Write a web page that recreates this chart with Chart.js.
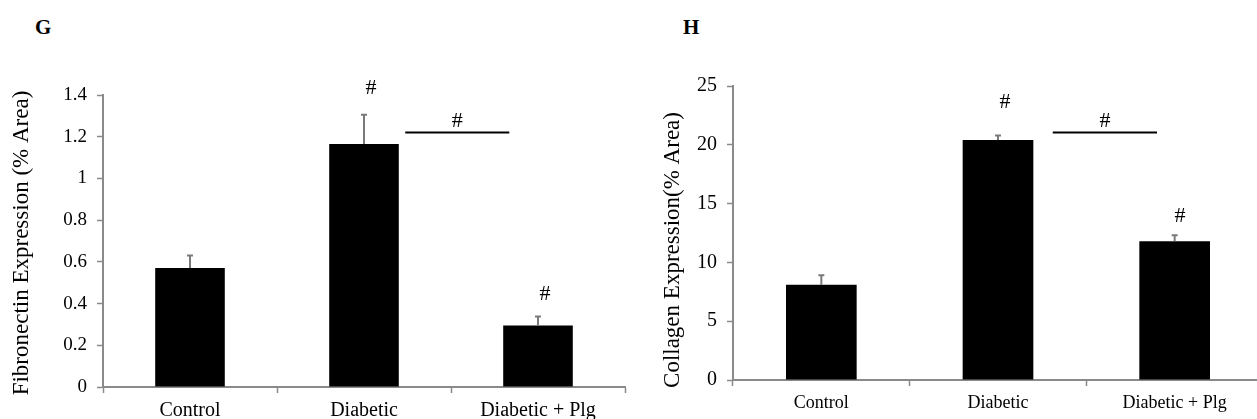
<!doctype html>
<html lang="en">
<head>
<meta charset="utf-8">
<title>Fibronectin / Collagen expression</title>
<script src="https://cdn.jsdelivr.net/npm/chart.js@4.4.1/dist/chart.umd.min.js"></script>
<style>
  html, body { margin: 0; padding: 0; background: #fff; overflow: hidden; }
  body { width: 1257px; height: 419px; position: relative; }
  .panel { position: absolute; font-family: "Liberation Serif", serif; font-weight: bold; font-size: 21px; color: #000; }
  canvas { position: absolute; top: 0; }
</style>
</head>
<body>
<div class="panel" style="left:35px;top:15px">G</div>
<div class="panel" style="left:683px;top:15px">H</div>
<canvas id="chartG" width="640" height="419" style="left:0"></canvas>
<canvas id="chartH" width="640" height="419" style="left:640px"></canvas>

<script>
// groups on the x axis
const groups = ['Control', 'Diabetic', 'Diabetic + Plg'];

// G: fibronectin, % area (mean and SEM)
const fnMean = [0.57, 1.165, 0.295];
const fnErr  = [0.06, 0.14, 0.043];
const fnTicks = ['0', '0.2', '0.4', '0.6', '0.8', '1', '1.2', '1.4'];
// "#" marks (category index, value) and the bracket between Diabetic and Diabetic + Plg
const fnMarks = [[1.04, 1.434], [2.04, 0.445]];
const fnBracket = [1.237, 1.835, 1.223, 1.272];

// H: collagen, % area
const colMean = [8.1, 20.4, 11.8];
const colErr  = [0.8, 0.4, 0.5];
const colTicks = ['0', '5', '10', '15', '20', '25'];
const colMarks = [[1.04, 23.58], [2.03, 13.9]];
const colBracket = [1.31, 1.9, 21.1, 21.97];

const serif = '"Liberation Serif", "Times New Roman", serif';
const axisGray = '#8a8a8a';

// error bars (upper only), significance marks and the rotated y title
const sigPlugin = {
  id: 'sig',
  afterDatasetsDraw(chart, args, opts) {
    const ctx = chart.ctx;
    const xs = chart.scales.x, ys = chart.scales.y;
    const meta = chart.getDatasetMeta(0);
    ctx.save();
    ctx.strokeStyle = '#7a7a7a';
    ctx.lineWidth = 2;
    opts.err.forEach(function(e, i) {
      const bar = meta.data[i];
      const top = ys.getPixelForValue(opts.mean[i] + e);
      ctx.beginPath();
      ctx.moveTo(bar.x, bar.y);
      ctx.lineTo(bar.x, top);
      ctx.moveTo(bar.x - 3, top);
      ctx.lineTo(bar.x + 3, top);
      ctx.stroke();
    });
    ctx.fillStyle = '#000';
    ctx.font = '22px ' + serif;
    ctx.textAlign = 'center';
    ctx.textBaseline = 'middle';
    opts.marks.forEach(function(m) {
      ctx.fillText('#', xs.getPixelForValue(m[0]), ys.getPixelForValue(m[1]));
    });
    const b = opts.bracket;
    const bx1 = xs.getPixelForValue(b[0]), bx2 = xs.getPixelForValue(b[1]);
    const by = Math.round(ys.getPixelForValue(b[2])) + 0.5;
    ctx.strokeStyle = '#000';
    ctx.lineWidth = 2;
    ctx.beginPath();
    ctx.moveTo(bx1, by);
    ctx.lineTo(bx2, by);
    ctx.stroke();
    ctx.fillText('#', (bx1 + bx2) / 2, ys.getPixelForValue(b[3]));

    // y axis title
    ctx.translate(opts.titleX, (chart.chartArea.top + chart.chartArea.bottom) / 2 + opts.titleShift);
    ctx.rotate(-Math.PI / 2);
    ctx.font = opts.titleSize + 'px ' + serif;
    ctx.fillText(opts.title, 0, 0);
    ctx.restore();
  }
};

function makeChart(id, mean, err, ticks, step, max, title, marks, bracket, cfg) {
  return new Chart(id, {
    type: 'bar',
    data: {
      labels: groups,
      datasets: [{
        data: mean,
        backgroundColor: '#000',
        borderWidth: 0,
        barPercentage: 0.4,
        categoryPercentage: 1
      }]
    },
    options: {
      responsive: false,
      animation: false,
      events: [],
      layout: { padding: { top: cfg.top, left: 0, right: cfg.right, bottom: 0 } },
      plugins: {
        legend: { display: false },
        tooltip: { enabled: false },
        sig: {
          mean: mean, err: err, marks: marks, bracket: bracket,
          title: title, titleX: cfg.titleX, titleShift: cfg.titleShift, titleSize: cfg.titleSize
        }
      },
      scales: {
        x: {
          grid: { offset: true, drawOnChartArea: false, color: axisGray, tickLength: 6, tickWidth: 1.5 },
          border: { color: axisGray, width: 2 },
          ticks: { color: '#000', padding: 6, font: { family: serif, size: cfg.xFont } },
          afterFit: function(s) { s.height = cfg.xHeight; }
        },
        y: {
          min: 0,
          max: max,
          grid: { drawOnChartArea: false, color: axisGray, tickLength: 6, tickWidth: 1.5 },
          border: { color: axisGray, width: 2 },
          ticks: {
            stepSize: step,
            color: '#000',
            padding: 10,
            font: { family: serif, size: cfg.yFont },
            callback: function(v, i) { return ticks[i]; }
          },
          afterFit: function(s) { s.width = cfg.yWidth; }
        }
      }
    },
    plugins: [sigPlugin]
  });
}

makeChart('chartG', fnMean, fnErr, fnTicks, 0.2, 1.4,
  'Fibronectin Expression (% Area)', fnMarks, fnBracket,
  { top: 95, right: 15, yWidth: 103, xHeight: 32, xFont: 20, yFont: 19,
    titleX: 22, titleShift: 2, titleSize: 23 });

makeChart('chartH', colMean, colErr, colTicks, 5, 25,
  'Collagen Expression(% Area)', colMarks, colBracket,
  { top: 86, right: 17, yWidth: 93, xHeight: 39, xFont: 18, yFont: 20,
    titleX: 33, titleShift: 17, titleSize: 23 });
</script>
</body>
</html>
